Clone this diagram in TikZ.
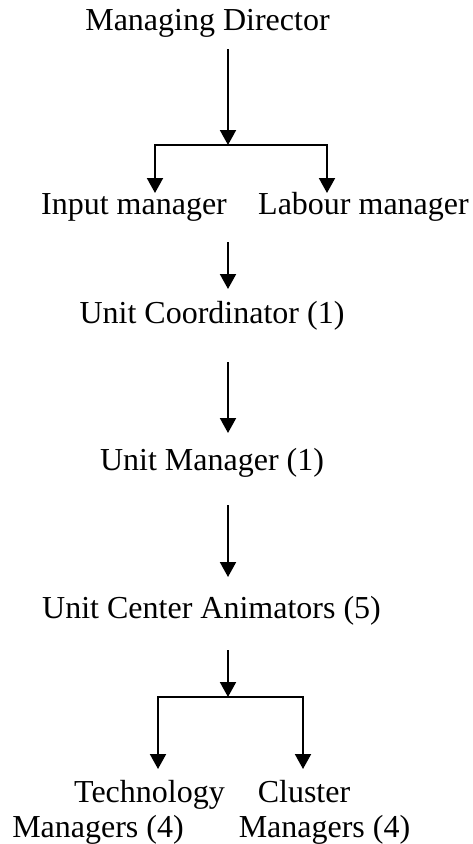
\documentclass[tikz,border=0pt]{standalone}
\usepackage{fontspec}
\setmainfont{Liberation Serif}
\usetikzlibrary{arrows.meta}
\begin{document}
\begin{tikzpicture}[x=1pt,y=-1pt,
  lbl/.style={anchor=base,inner sep=0pt,font=\fontsize{32}{38}\selectfont},
  link/.style={line width=2pt,-{Triangle[width=16pt,length=15pt]}}]
\useasboundingbox (0,0) rectangle (473,844);

% titles, one node per printed line
\node[lbl] (md)   at (207.5,30)  {Managing Director};
\node[lbl] (inm)  at (134,214)   {Input manager};
\node[lbl] (lab)  at (363.5,214) {Labour manager};
\node[lbl] (uc)   at (212,323)   {Unit Coordinator (1)};
\node[lbl] (um)   at (212,470)   {Unit Manager (1)};
\node[lbl] (uca)  at (211.5,618) {Unit Center Animators (5)};
\node[lbl] (tech) at (149.5,802) {Technology};
\node[lbl] (techm) at (98,837)   {Managers (4)};
\node[lbl] (clu)  at (304,802)   {Cluster};
\node[lbl] (clum) at (324.5,837) {Managers (4)};

% arrow ends and branch points
\coordinate (a0) at (228,49);
\coordinate (j1) at (228,145);
\coordinate (t1) at (155,193);
\coordinate (t2) at (327,193);
\coordinate (a1) at (228,242);
\coordinate (b1) at (228,289);
\coordinate (a2) at (228,362);
\coordinate (b2) at (228,433);
\coordinate (a3) at (228,505);
\coordinate (b3) at (228,577);
\coordinate (a4) at (228,650);
\coordinate (j2) at (228,697);
\coordinate (t3) at (158,769);
\coordinate (t4) at (303,769);

% Managing Director splits into the two managers
\draw[link] (a0) -- (j1);
\draw[link] (j1) -| (t1);
\draw[link] (j1) -| (t2);

% the single chain below
\draw[link] (a1) -- (b1);
\draw[link] (a2) -- (b2);
\draw[link] (a3) -- (b3);

% animators split into technology and cluster managers
\draw[link] (a4) -- (j2);
\draw[link] (j2) -| (t3);
\draw[link] (j2) -| (t4);
\end{tikzpicture}
\end{document}
